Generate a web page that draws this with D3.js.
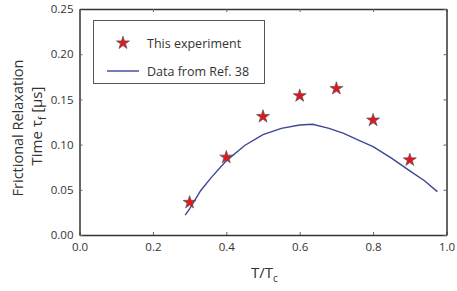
<!DOCTYPE html>
<html>
<head>
<meta charset="utf-8">
<script src="https://cdn.jsdelivr.net/npm/d3@7"></script>
<style>
  body { margin: 0; background: #fff; }
  svg text { font-family: "Open Sans", sans-serif; fill: #333; }
</style>
</head>
<body>
<div id="chart"></div>
<script>
// experiment points (T/Tc, tau_f in us)
var expT = [0.3, 0.4, 0.5, 0.6, 0.7, 0.8, 0.9];
var expTau = [0.036, 0.086, 0.131, 0.154, 0.162, 0.127, 0.083];

// curve from Ref. 38
var refT = [0.288, 0.30, 0.33, 0.36, 0.40, 0.45, 0.50, 0.55, 0.60, 0.635, 0.68, 0.72, 0.76, 0.80, 0.85, 0.90, 0.94, 0.975];
var refTau = [0.022, 0.029, 0.049, 0.064, 0.082, 0.099, 0.111, 0.118, 0.1217, 0.1225, 0.118, 0.1125, 0.105, 0.0977, 0.085, 0.071, 0.060, 0.048];

var xTicks = [0.0, 0.2, 0.4, 0.6, 0.8, 1.0];
var yTicks = [0.00, 0.05, 0.10, 0.15, 0.20, 0.25];

var width = 457, height = 291;
var plotLeft = 79.5, plotRight = 446.5, plotTop = 9, plotBottom = 235;

var svg = d3.select("#chart").append("svg")
    .attr("width", width)
    .attr("height", height);

var xScale = d3.scaleLinear().domain([0, 1]).range([plotLeft, plotRight]);
var yScale = d3.scaleLinear().domain([0, 0.25]).range([plotBottom, plotTop]);

var axisColor = "#333";

// bottom / left axes with labels, ticks pointing inward
var xAxis = d3.axisBottom(xScale).tickValues(xTicks).tickFormat(d3.format(".1f"))
    .tickSizeInner(-3).tickSizeOuter(0).tickPadding(8);
var yAxis = d3.axisLeft(yScale).tickValues(yTicks).tickFormat(d3.format(".2f"))
    .tickSizeInner(-3).tickSizeOuter(0).tickPadding(6);

var gx = svg.append("g")
    .attr("transform", "translate(0," + plotBottom + ")")
    .call(xAxis);
var gy = svg.append("g")
    .attr("transform", "translate(" + plotLeft + ",0)")
    .call(yAxis);

// mirror ticks on top and right
var gxTop = svg.append("g")
    .attr("transform", "translate(0," + plotTop + ")")
    .call(d3.axisTop(xScale).tickValues(xTicks).tickFormat("").tickSizeInner(-3).tickSizeOuter(0));
var gyRight = svg.append("g")
    .attr("transform", "translate(" + plotRight + ",0)")
    .call(d3.axisRight(yScale).tickValues(yTicks).tickFormat("").tickSizeInner(-3).tickSizeOuter(0));

[gx, gy, gxTop, gyRight].forEach(g => {
    g.select(".domain").attr("stroke", axisColor).attr("stroke-width", 1.5);
    g.selectAll(".tick line").attr("stroke", "#666").attr("stroke-width", 1);
    g.selectAll(".tick text").style("font-size", "11.5px").attr("fill", "#333");
});

// ref curve
var line = d3.line()
    .x((d, i) => xScale(refT[i]))
    .y(d => yScale(d));

svg.append("path")
    .datum(refTau)
    .attr("d", line)
    .attr("fill", "none")
    .attr("stroke", "#3c4696")
    .attr("stroke-width", 1.4);

// stars
var star = d3.symbol().type(d3.symbolStar).size(52);

svg.selectAll(".star")
    .data(expTau)
    .enter()
    .append("path")
    .attr("class", "star")
    .attr("d", star)
    .attr("transform", (d, i) => "translate(" + xScale(expT[i]) + "," + yScale(d) + ")")
    .attr("fill", "#e8141c")
    .attr("stroke", "#555")
    .attr("stroke-width", 0.7);

// legend
var legend = svg.append("g");
legend.append("rect")
    .attr("x", 93.5).attr("y", 20.5)
    .attr("width", 171).attr("height", 63)
    .attr("fill", "#fff")
    .attr("stroke", "#555")
    .attr("stroke-width", 1);
legend.append("path")
    .attr("d", star)
    .attr("transform", "translate(123,43)")
    .attr("fill", "#e8141c")
    .attr("stroke", "#555")
    .attr("stroke-width", 0.7);
legend.append("text")
    .attr("x", 147).attr("y", 47.5)
    .style("font-size", "12.5px")
    .text("This experiment");
legend.append("line")
    .attr("x1", 107).attr("x2", 139)
    .attr("y1", 71).attr("y2", 71)
    .attr("stroke", "#3c4696")
    .attr("stroke-width", 1.4);
legend.append("text")
    .attr("x", 147).attr("y", 75.5)
    .style("font-size", "12.5px")
    .text("Data from Ref. 38");

// axis titles
var xLabel = svg.append("text")
    .attr("x", 251).attr("y", 278)
    .style("font-size", "15px");
xLabel.append("tspan").text("T/T");
xLabel.append("tspan").attr("dy", 4).style("font-size", "10px").text("c");

svg.append("text")
    .attr("transform", "translate(23,128) rotate(-90)")
    .attr("text-anchor", "middle")
    .style("font-size", "14.5px")
    .text("Frictional Relaxation");

var yLabel2 = svg.append("text")
    .attr("transform", "translate(42,126) rotate(-90)")
    .attr("text-anchor", "middle")
    .style("font-size", "15px");
yLabel2.append("tspan").text("Time \u03c4");
yLabel2.append("tspan").attr("dy", 4).style("font-size", "10px").text("f");
yLabel2.append("tspan").attr("dy", -4).text(" [\u03bcs]");
</script>
</body>
</html>
